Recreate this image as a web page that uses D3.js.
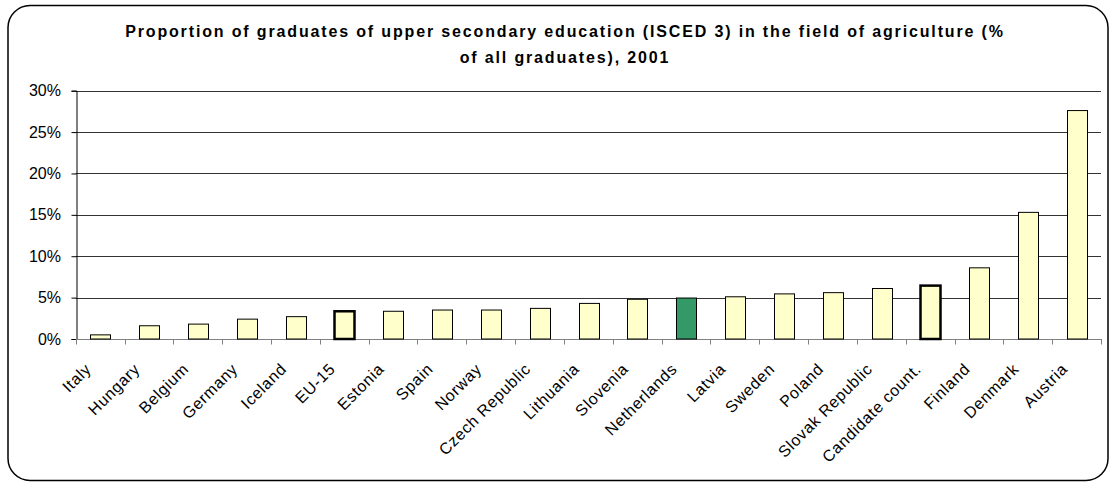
<!DOCTYPE html>
<html><head><meta charset="utf-8">
<script src="https://cdn.jsdelivr.net/npm/d3@7"></script>
<style>html,body{margin:0;padding:0;background:#fff;}svg{display:block;}</style>
</head><body>
<script>
const categories = ["Italy","Hungary","Belgium","Germany","Iceland","EU-15","Estonia","Spain","Norway","Czech Republic","Lithuania","Slovenia","Netherlands","Latvia","Sweden","Poland","Slovak Republic","Candidate count.","Finland","Denmark","Austria"];
const values = [0.5,1.6,1.8,2.4,2.7,3.35,3.35,3.5,3.5,3.7,4.3,4.8,4.95,5.1,5.45,5.6,6.1,6.45,8.6,15.3,27.6];
const yTicks = [0,5,10,15,20,25,30];
const titleLines = ["Proportion of graduates of upper secondary education (ISCED 3) in the field of agriculture (%","of all graduates), 2001"];
const aggregates = ["EU-15","Candidate count."];
const highlight = ["Netherlands"];

const W = 1109, H = 482;
const m = {left: 75.7, right: 1101, top: 90.7, bottom: 339};
const svg = d3.select("body").append("svg").attr("width", W).attr("height", H);

svg.append("rect").attr("x",8).attr("y",5.5).attr("width",1100).attr("height",475)
  .attr("rx",22).attr("fill","#fff").attr("stroke","#000").attr("stroke-width",1.5);

svg.append("g").selectAll("text").data(titleLines).join("text")
  .attr("x",565).attr("y",(d,i)=>37+i*26).attr("text-anchor","middle")
  .attr("font-family","Liberation Sans, Arial, sans-serif").attr("font-weight","bold")
  .attr("font-size",16).attr("letter-spacing","1.85px").attr("fill","#000").text(d=>d);

const x = d3.scaleBand().domain(categories).range([m.left, m.right]).paddingInner(0.6).paddingOuter(0.3);
const y = d3.scaleLinear().domain([0,30]).range([m.bottom, m.top]);

// gridlines
svg.append("g").selectAll("line").data(yTicks.filter(d=>d>0)).join("line")
  .attr("x1",m.left).attr("x2",m.right).attr("y1",d=>Math.round(y(d))+0.5).attr("y2",d=>Math.round(y(d))+0.5)
  .attr("stroke","#333").attr("stroke-width",1);

// y axis
const yAxis = svg.append("g").attr("transform",`translate(${Math.round(m.left)+0.5},0)`)
  .call(d3.axisLeft(y).tickValues(yTicks).tickFormat(d=>d+"%").tickSize(5).tickPadding(10.5));
yAxis.select(".domain").attr("stroke","#000");
yAxis.selectAll(".tick line").attr("stroke","#000");
yAxis.selectAll("text").attr("font-family","Liberation Sans, Arial, sans-serif").attr("font-size",16).attr("fill","#000");

// x axis
const xb = d3.scaleLinear().domain([0,categories.length]).range([m.left,m.right]);
const xAxisG = svg.append("g");
xAxisG.append("line").attr("x1",m.left).attr("x2",m.right).attr("y1",Math.round(m.bottom)+0.5).attr("y2",Math.round(m.bottom)+0.5).attr("stroke","#808080");
xAxisG.selectAll("line.t").data(d3.range(categories.length+1)).join("line").attr("class","t")
  .attr("x1",d=>Math.round(xb(d))+0.5).attr("x2",d=>Math.round(xb(d))+0.5)
  .attr("y1",m.bottom).attr("y2",m.bottom+5.5).attr("stroke","#808080");

// bars
svg.append("g").selectAll("rect").data(categories).join("rect")
  .attr("x",d=>Math.round(x(d))+0.5).attr("width",Math.round(x.bandwidth()))
  .attr("y",(d,i)=>y(values[i])).attr("height",(d,i)=>m.bottom - y(values[i]))
  .attr("fill",d=>highlight.includes(d)?"#339966":"#FFFFCC")
  .attr("stroke","#000").attr("stroke-width",d=>aggregates.includes(d)?2.5:1);

// x labels
svg.append("g").selectAll("text").data(categories).join("text")
  .attr("transform",d=>`translate(${x(d)+x.bandwidth()/2-16},362) rotate(-45)`)
  .attr("text-anchor","end").attr("dy","0.71em").attr("letter-spacing","0.7px")
  .attr("font-family","Liberation Sans, Arial, sans-serif").attr("font-size",16).attr("fill","#000")
  .text(d=>d);
</script>
</body></html>
